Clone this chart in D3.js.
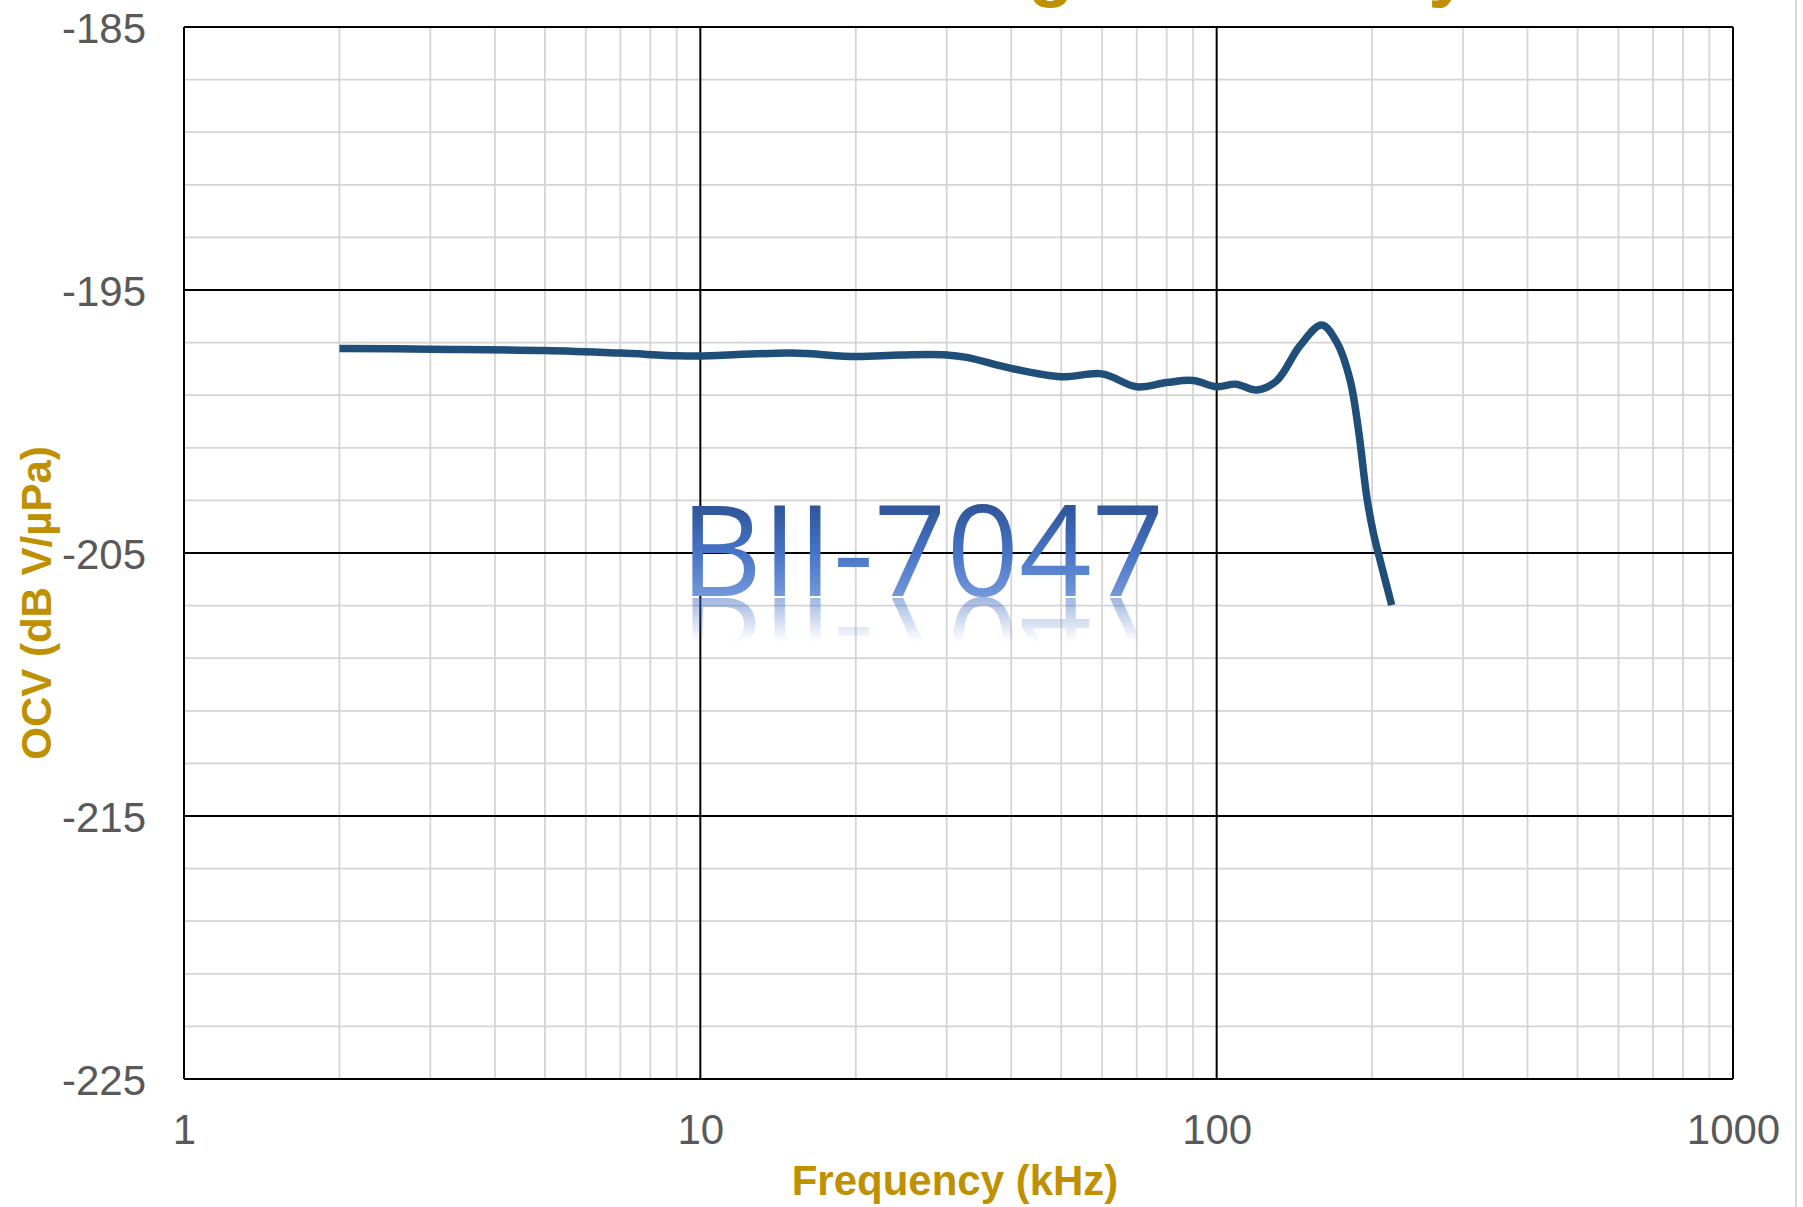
<!DOCTYPE html>
<html>
<head>
<meta charset="utf-8">
<script src="https://cdn.jsdelivr.net/npm/d3@7"></script>
<style>
  body { margin: 0; background: #fff; }
  text { font-family: "Liberation Sans", Arial, sans-serif; }
</style>
</head>
<body>
<div id="chart"></div>
<script>
// frequency in kHz, OCV in dB re 1V/uPa
var freqs = [2, 3, 5, 7, 9, 10, 15, 20, 24.4, 30, 32.8, 40, 50, 60, 70, 80, 90, 100,
             109, 119.5, 130.7, 145, 159.8, 170.9, 181.3, 188.2, 195.3, 201.2, 208.8, 218.3];
var ocv = [-197.22, -197.25, -197.30, -197.40, -197.50, -197.51, -197.40, -197.53, -197.47, -197.47,
           -197.56, -197.98, -198.30, -198.19, -198.68, -198.52, -198.44, -198.68,
           -198.58, -198.80, -198.45, -197.12, -196.33, -196.99, -198.42, -200.32, -202.86,
           -204.25, -205.52, -206.98];

var xTicks = [1, 10, 100, 1000];
var yTicks = [-225, -215, -205, -195, -185];
var yMinor = d3.range(-225, -184, 2);

var w = 1803;
var h = 1207;
var plotL = 184, plotR = 1733, plotT = 27, plotB = 1079;
var gold = "#BF9000";

var svg = d3.select("#chart")
    .append("svg")
    .attr("width", w)
    .attr("height", h);

var xScale = d3.scaleLog()
    .domain([1, 1000])
    .range([plotL, plotR]);

var yScale = d3.scaleLinear()
    .domain([-225, -185])
    .range([plotB, plotT]);

var defs = svg.append("defs");

// gradient for the watermark text
var wg = defs.append("linearGradient")
    .attr("id", "wmGrad")
    .attr("gradientUnits", "userSpaceOnUse")
    .attr("x1", 0).attr("y1", 505)
    .attr("x2", 0).attr("y2", 596);
wg.append("stop").attr("offset", 0).attr("stop-color", "#2F5597");
wg.append("stop").attr("offset", 0.5).attr("stop-color", "#4472C4");
wg.append("stop").attr("offset", 1).attr("stop-color", "#7398DA");

// gradient for the reflection (in flipped coordinates)
var rg = defs.append("linearGradient")
    .attr("id", "refGrad")
    .attr("gradientUnits", "userSpaceOnUse")
    .attr("x1", 0).attr("y1", 596)
    .attr("x2", 0).attr("y2", 552);
rg.append("stop").attr("offset", 0).attr("stop-color", "#4472C4").attr("stop-opacity", 0.5);
rg.append("stop").attr("offset", 1).attr("stop-color", "#4472C4").attr("stop-opacity", 0);

// cut-off title at the top
svg.append("text")
    .text("Receiving Sensitivity")
    .attr("x", 1470)
    .attr("y", -7)
    .attr("text-anchor", "end")
    .style("font-size", "75px")
    .style("font-weight", "bold")
    .style("fill", gold);

// chart area border on the right
svg.append("line")
    .attr("x1", 1796).attr("x2", 1796)
    .attr("y1", 0).attr("y2", h)
    .style("stroke", "#D9D9D9")
    .style("stroke-width", 2);

// minor grid
svg.append("g")
    .selectAll("line")
    .data(xScale.ticks().filter(function(d) { return xTicks.indexOf(d) < 0; }))
    .enter()
    .append("line")
    .attr("x1", function(d) { return xScale(d); })
    .attr("x2", function(d) { return xScale(d); })
    .attr("y1", plotT)
    .attr("y2", plotB)
    .style("stroke", "#D4D4D4")
    .style("stroke-width", 1.75);

svg.append("g")
    .selectAll("line")
    .data(yMinor.filter(function(d) { return yTicks.indexOf(d) < 0; }))
    .enter()
    .append("line")
    .attr("x1", plotL)
    .attr("x2", plotR)
    .attr("y1", function(d) { return yScale(d); })
    .attr("y2", function(d) { return yScale(d); })
    .style("stroke", "#D4D4D4")
    .style("stroke-width", 1.75);

// major grid
svg.append("g")
    .selectAll("line")
    .data(xTicks)
    .enter()
    .append("line")
    .attr("x1", function(d) { return xScale(d); })
    .attr("x2", function(d) { return xScale(d); })
    .attr("y1", plotT)
    .attr("y2", plotB)
    .style("stroke", "#000")
    .style("stroke-width", 2);

svg.append("g")
    .selectAll("line")
    .data(yTicks)
    .enter()
    .append("line")
    .attr("x1", plotL)
    .attr("x2", plotR)
    .attr("y1", function(d) { return yScale(d); })
    .attr("y2", function(d) { return yScale(d); })
    .style("stroke", "#000")
    .style("stroke-width", 2);

// watermark with reflection
var wmText = "BII-7047";
svg.append("text")
    .text(wmText)
    .attr("x", 680)
    .attr("y", 596)
    .style("font-family", "'Open Sans', sans-serif")
    .style("font-size", "127px")
    .style("fill", "url(#wmGrad)");

svg.append("g")
    .attr("transform", "translate(0," + (2 * 597) + ") scale(1,-1)")
    .append("text")
    .text(wmText)
    .attr("x", 680)
    .attr("y", 596)
    .style("font-family", "'Open Sans', sans-serif")
    .style("font-size", "127px")
    .style("fill", "url(#refGrad)");

// the curve
var line = d3.line()
    .x(function(d) { return xScale(d[0]); })
    .y(function(d) { return yScale(d[1]); })
    .curve(d3.curveCatmullRom.alpha(0.5));

svg.append("path")
    .datum(d3.zip(freqs, ocv))
    .attr("d", line)
    .style("fill", "none")
    .style("stroke", "#1F4E79")
    .style("stroke-width", 7.5)
    .style("stroke-linejoin", "round");

// axes (labels only)
var xAxis = svg.append("g")
    .attr("transform", "translate(0," + plotB + ")")
    .call(d3.axisBottom(xScale).tickValues(xTicks).tickFormat(function(d) { return String(d); }).tickSize(0).tickPadding(35));

var yAxis = svg.append("g")
    .attr("transform", "translate(" + plotL + ",0)")
    .call(d3.axisLeft(yScale).tickValues(yTicks).tickFormat(function(d) { return String(d); }).tickSize(0).tickPadding(38));

[xAxis, yAxis].forEach(function(a) {
    a.select(".domain").remove();
    a.selectAll("text")
        .style("font-family", "'Liberation Sans', Arial, sans-serif")
        .style("font-size", "42px")
        .style("fill", "#595959");
});
yAxis.selectAll("text").attr("dy", "0.36em");

// axis titles
svg.append("text")
    .text("Frequency (kHz)")
    .attr("x", 955)
    .attr("y", 1195)
    .attr("text-anchor", "middle")
    .style("font-size", "42px")
    .style("font-weight", "bold")
    .style("fill", gold);

svg.append("text")
    .text("OCV (dB V/µPa)")
    .attr("transform", "translate(51,603) rotate(-90)")
    .attr("text-anchor", "middle")
    .style("font-size", "42px")
    .style("font-weight", "bold")
    .style("fill", gold);
</script>
</body>
</html>
